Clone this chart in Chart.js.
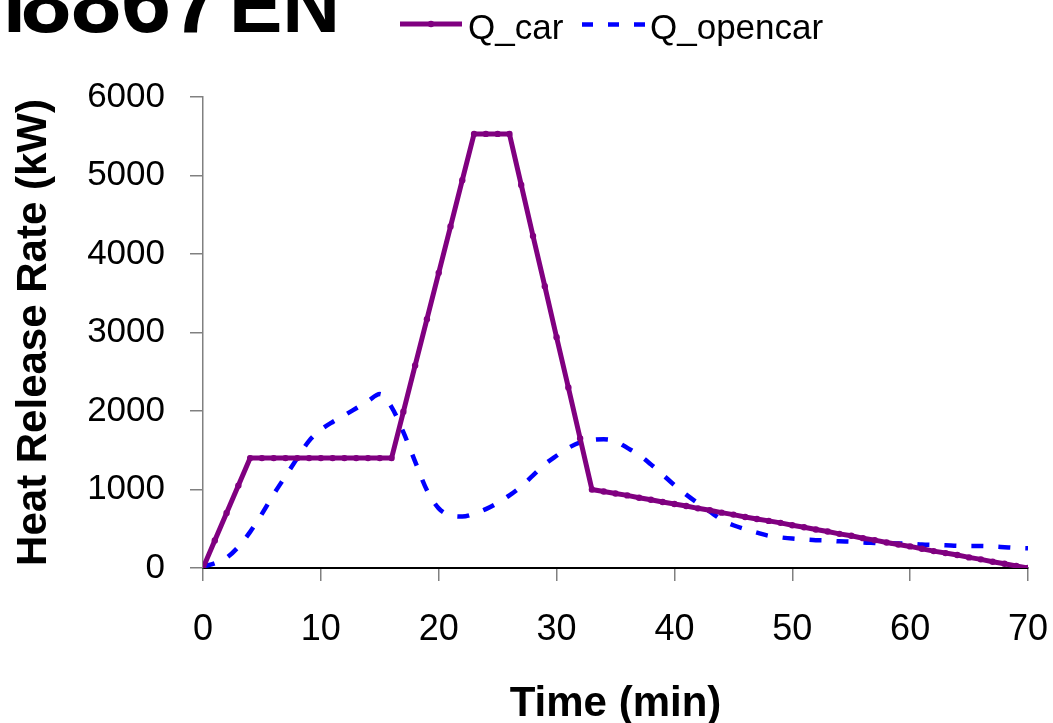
<!DOCTYPE html>
<html>
<head>
<meta charset="utf-8">
<script src="https://cdn.jsdelivr.net/npm/chart.js@4/dist/chart.umd.min.js"></script>
<style>
  html, body { margin: 0; padding: 0; background: #fff; }
  #wrap { width: 1053px; height: 723px; position: relative; overflow: hidden; }
</style>
</head>
<body>
<div id="wrap"><canvas id="c" width="1053" height="723"></canvas></div>
<script>
// ---- data ----
const timeMin = [0,1,2,3,4,5,6,7,8,9,10,11,12,13,14,15,16,17,18,19,20,21,22,23,24,25,26,27,28,29,30,31,32,33,34,35,36,37,38,39,40,41,42,43,44,45,46,47,48,49,50,51,52,53,54,55,56,57,58,59,60,61,62,63,64,65,66,67,68,69,70];
const qCar = [0,350,700,1050,1400,1400,1400,1400,1400,1400,1400,1400,1400,1400,1400,1400,1400,1990,2580,3170,3760,4350,4940,5530,5530,5530,5530,4880,4230,3590,2940,2300,1650,1000,975,950,925,895,870,840,815,790,760,735,705,680,650,625,600,575,545,520,490,465,435,410,380,355,325,300,275,245,215,190,165,135,110,80,55,25,0];
const qOpencar = [20,60,130,270,460,690,940,1170,1400,1620,1760,1860,1945,2035,2125,2215,2050,1730,1355,990,760,670,655,690,750,830,925,1040,1180,1320,1430,1530,1600,1630,1640,1615,1530,1440,1320,1190,1055,935,825,720,615,545,495,450,410,390,375,365,355,350,340,335,325,320,315,312,310,300,295,290,282,280,280,275,265,255,250];
const seriesNames = ['Q_car', 'Q_opencar'];
const xTicks = [0,10,20,30,40,50,60,70];
const yTicks = [0,1000,2000,3000,4000,5000,6000];
const titleParts = ['T', '8867', 'EN'];
const xTitle = 'Time (min)';
const yTitle = 'Heat Release Rate (kW)';

const PURPLE = '#800080';
const BLUE = '#0000ff';
const FONT = '"Liberation Sans", Arial, sans-serif';

Chart.defaults.font.family = FONT;
Chart.defaults.color = '#000';

const toXY = (vals) => vals.map((v, i) => ({ x: timeMin[i], y: v }));

const decorPlugin = {
  id: 'decor',
  afterDraw(chart) {
    const ctx = chart.ctx;
    ctx.save();
    // title (partly cut off at the top-left as in the reference)
    ctx.fillStyle = '#000';
    ctx.textBaseline = 'alphabetic';
    ctx.textAlign = 'left';
    ctx.font = 'bold 80px ' + FONT;
    ctx.fillText(titleParts[0], -10, 32);
    ctx.font = 'bold 90px ' + FONT;
    ctx.fillText(titleParts[1], 21, 32);
    ctx.font = 'bold 80px ' + FONT;
    ctx.fillText(titleParts[2], 229, 32);

    // legend
    ctx.lineCap = 'butt';
    ctx.strokeStyle = PURPLE;
    ctx.lineWidth = 5;
    ctx.setLineDash([]);
    ctx.beginPath(); ctx.moveTo(400, 24); ctx.lineTo(462, 24); ctx.stroke();
    ctx.fillStyle = PURPLE;
    ctx.beginPath(); ctx.arc(431, 24, 3.2, 0, Math.PI * 2); ctx.fill();

    ctx.strokeStyle = BLUE;
    ctx.lineWidth = 4.5;
    ctx.setLineDash([11, 15]);
    ctx.beginPath(); ctx.moveTo(582, 24.5); ctx.lineTo(645, 24.5); ctx.stroke();
    ctx.setLineDash([]);

    ctx.fillStyle = '#000';
    ctx.font = '35px ' + FONT;
    ctx.fillText(seriesNames[0], 468, 39);
    ctx.fillText(seriesNames[1], 650, 39);
    ctx.restore();
  }
};

new Chart(document.getElementById('c'), {
  type: 'line',
  data: {
    datasets: [
      {
        label: seriesNames[0],
        data: toXY(qCar),
        borderColor: PURPLE,
        backgroundColor: PURPLE,
        borderWidth: 5,
        pointRadius: 3.2,
        pointBorderWidth: 0,
        pointBackgroundColor: PURPLE,
        tension: 0,
        fill: false
      },
      {
        label: seriesNames[1],
        data: toXY(qOpencar),
        borderColor: BLUE,
        backgroundColor: BLUE,
        borderWidth: 4.5,
        borderDash: [12, 15],
        pointRadius: 0,
        cubicInterpolationMode: 'monotone',
        fill: false
      }
    ]
  },
  options: {
    responsive: false,
    animation: false,
    devicePixelRatio: 1,
    layout: { padding: { left: 0, right: 25, top: 97, bottom: 0 } },
    plugins: {
      legend: { display: false },
      title: { display: false },
      tooltip: { enabled: false }
    },
    scales: {
      x: {
        type: 'linear',
        min: 0, max: 70,
        afterBuildTicks(scale) { scale.ticks = xTicks.map(v => ({ value: v })); },
        afterFit(scale) { scale.height = 155; scale.paddingLeft = 0; scale.paddingRight = 0; },
        ticks: { font: { size: 36 }, padding: 27, color: '#000', maxRotation: 0, callback: (v) => String(v) },
        grid: { drawOnChartArea: false, tickLength: 13, color: '#808080', lineWidth: 1.5 },
        border: { color: '#000', width: 2 },
        title: { display: true, text: xTitle, font: { size: 42, weight: 'bold', lineHeight: 0.9 }, padding: 0, color: '#000' }
      },
      y: {
        min: 0, max: 6000,
        afterBuildTicks(scale) { scale.ticks = yTicks.map(v => ({ value: v })); },
        afterFit(scale) { scale.width = 203; scale.paddingTop = 0; scale.paddingBottom = 0; },
        ticks: { font: { size: 35 }, padding: 25, color: '#000', callback: (v) => String(v) },
        grid: { drawOnChartArea: false, tickLength: 13, color: '#808080', lineWidth: 1.5 },
        border: { color: '#808080', width: 1.5 },
        title: { display: true, text: yTitle, font: { size: 42, weight: 'bold', lineHeight: 1.2 }, padding: { top: 9, bottom: 0 }, color: '#000' }
      }
    }
  },
  plugins: [decorPlugin]
});
</script>
</body>
</html>
